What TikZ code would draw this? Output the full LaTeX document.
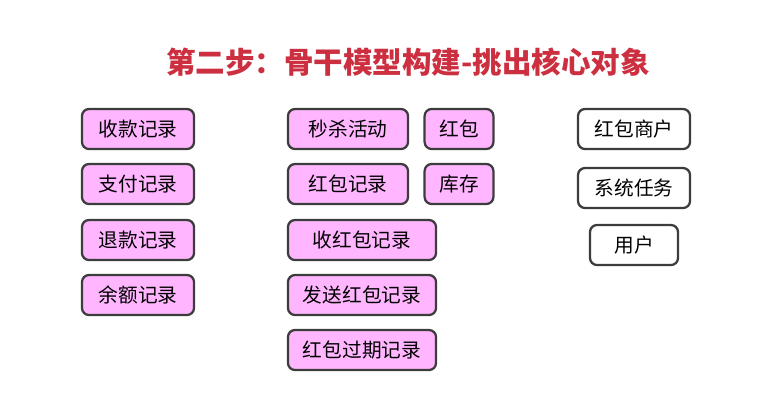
\documentclass[tikz,border=0pt]{standalone}
\usepackage{fontspec}
\newfontfamily\cjk{Noto Sans CJK SC}
\definecolor{titelrot}{RGB}{204,48,64}
\definecolor{kastenrosa}{RGB}{255,182,255}
\definecolor{rand}{RGB}{60,60,60}
\begin{document}
\begin{tikzpicture}[x=0.025cm,y=-0.025cm,
	kasten/.style={draw=rand, line width=1.6pt, rounded corners=5pt, fill=kastenrosa, minimum height=40\pgfkeysvalueof{/pgf/inner xsep}*0+1cm, inner sep=0pt, font=\cjk\fontsize{14}{16}\selectfont},
	weiss/.style={kasten, fill=white}]
	%Rahmen
	\useasboundingbox (0,0) rectangle (761,417);
	%Titel
	\node[text=titelrot, font=\cjk\bfseries\fontsize{21}{24}\selectfont] (titel) at (408,62) {第二步：骨干模型构建-挑出核心对象};

	%Linke Spalte
	\node[kasten, minimum width=2.8cm] (shoukuan) at (138,129) {收款记录};
	\node[kasten, minimum width=2.8cm] (zhifu) at (138,184) {支付记录};
	\node[kasten, minimum width=2.8cm] (tuikuan) at (138,240) {退款记录};
	\node[kasten, minimum width=2.8cm] (yue) at (138,295) {余额记录};

	%Mittlere Spalte
	\node[kasten, minimum width=3cm] (miaosha) at (348,129) {秒杀活动};
	\node[kasten, minimum width=1.72cm] (hongbao) at (459,129) {红包};
	\node[kasten, minimum width=3cm] (hbjilu) at (348,184) {红包记录};
	\node[kasten, minimum width=1.72cm] (kucun) at (459,184) {库存};
	\node[kasten, minimum width=3.7cm] (shou) at (362,240) {收红包记录};
	\node[kasten, minimum width=3.7cm] (fasong) at (362,295) {发送红包记录};
	\node[kasten, minimum width=3.7cm] (guoqi) at (362,350) {红包过期记录};

	%Rechte Spalte
	\node[weiss, minimum width=2.8cm] (shanghu) at (634,129) {红包商户};
	\node[weiss, minimum width=2.8cm] (renwu) at (634,188) {系统任务};
	\node[weiss, minimum width=2.2cm] (yonghu) at (634,245) {用户};
\end{tikzpicture}
\end{document}
